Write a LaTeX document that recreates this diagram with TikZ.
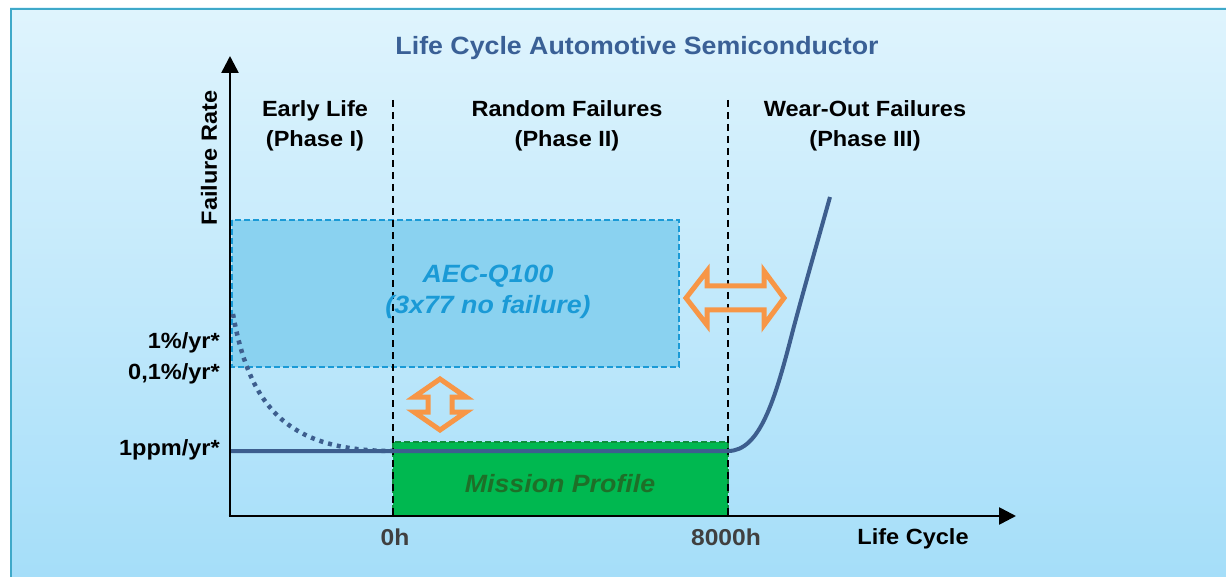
\documentclass[tikz,border=0pt]{standalone}
\usepackage{fontspec}
\setmainfont{Liberation Sans}[FakeStretch=1.07]
\usetikzlibrary{arrows.meta}
\definecolor{bgtop}{HTML}{DFF4FD}
\definecolor{bgbot}{HTML}{A5DEF9}
\definecolor{framec}{HTML}{3FA9C9}
\definecolor{titleblue}{HTML}{3A6096}
\definecolor{curvec}{HTML}{3D5E8E}
\definecolor{aecfill}{HTML}{8AD2F0}
\definecolor{aecline}{HTML}{1A9AD6}
\definecolor{mpfill}{HTML}{00B850}
\definecolor{mpline}{HTML}{0E8F3C}
\definecolor{mptext}{HTML}{1E6F28}
\definecolor{orangec}{HTML}{F79646}
\definecolor{tickc}{HTML}{404040}
\begin{document}
\begin{tikzpicture}[x=1pt,y=-1pt,
  lbl/.style={font=\bfseries\fontsize{22}{30}\selectfont, align=center, inner sep=0pt},
  ylbl/.style={font=\bfseries\fontsize{22}{26}\selectfont, anchor=east, inner sep=0pt},
  xlbl/.style={font=\bfseries\fontsize{23}{26}\selectfont, text=tickc, inner sep=0pt},
  boxtext/.style={font=\bfseries\itshape\fontsize{25}{31}\selectfont, align=center, inner sep=0pt},
  phaseline/.style={black, line width=1.6pt, dash pattern=on 7pt off 5pt},
  axisline/.style={black, line width=2.6pt, -{Triangle[length=17pt,width=17pt]}},
  ratecurve/.style={curvec, line width=4pt},
  dblarrow/.style={orangec, line width=5pt, line join=miter}
]
\useasboundingbox (0,0) rectangle (1226,577);
\fill[white] (0,0) rectangle (1226,577);
\shade[top color=bgtop, bottom color=bgbot] (10,8) rectangle (1226,577);
\draw[framec, line width=2pt] (11,577) -- (11,9) -- (1226,9);

% coordinates
\coordinate (O) at (230,516);
\coordinate (ytop) at (230,56);
\coordinate (xend) at (1016,516);
\coordinate (p1top) at (393,100);
\coordinate (p1bot) at (393,516);
\coordinate (p2top) at (728,100);
\coordinate (p2bot) at (728,516);

% boxes
\draw[aecline, fill=aecfill, line width=1.8pt, dash pattern=on 6pt off 3pt] (232,220) rectangle (679,367);
\node (aecbox) at (455.5,293.5) {};
\draw[mpline, fill=mpfill, line width=1.5pt, dash pattern=on 6pt off 3pt] (393,442) rectangle (728,516);
\node (mpbox) at (560.5,479) {};

% phase separators
\draw[phaseline] (p1top) -- (p1bot);
\draw[phaseline] (p2top) -- (p2bot);

% curves
\coordinate (early) at (233,314);
\coordinate (flatstart) at (230,451);
\coordinate (flatend) at (728,451);
\coordinate (mid) at (793,330);
\coordinate (wearend) at (830,197);
\draw[curvec, line width=4.5pt, dash pattern=on 4pt off 5pt] (early) .. controls (250,410) and (290,451) .. (393,451);
\draw[ratecurve] (flatstart) -- (flatend) .. controls (760,451) and (775,400) .. (mid) .. controls (805,285) and (818,240) .. (wearend);

% axes
\draw[axisline] (O) -- (ytop);
\draw[axisline] ([xshift=-1.3pt]O) -- (xend);

% orange double arrows
\draw[dblarrow] (686,298) -- (707,271) -- (707,286) -- (764,286) -- (764,271) -- (784,298)
  -- (764,325) -- (764,310) -- (707,310) -- (707,325) -- cycle;
\draw[dblarrow] (440,379) -- (466,397) -- (452,397) -- (452,412) -- (466,412) -- (440,430)
  -- (414,412) -- (428,412) -- (428,397) -- (414,397) -- cycle;

% texts
\node[font=\bfseries\fontsize{25}{30}\selectfont, text=titleblue, inner sep=0pt] (title) at (637,48) {Life Cycle Automotive Semiconductor};
\node[lbl] (ph1) at (315,126) {Early Life\\(Phase I)};
\node[lbl] (ph2) at (567,126) {Random Failures\\(Phase II)};
\node[lbl] (ph3) at (865,126) {Wear-Out Failures\\(Phase III)};
\node[lbl, rotate=90] (frate) at (209,158) {Failure Rate};
\node[ylbl] (r1) at (220,343) {1\%/yr*};
\node[ylbl] (r2) at (220,374) {0,1\%/yr*};
\node[ylbl] (r3) at (220,450) {1ppm/yr*};
\node[xlbl] (t0) at (395,537) {0h};
\node[xlbl] (t8) at (726,537) {8000h};
\node[lbl] (lc) at (913,539) {Life Cycle};
\node[boxtext, text=aecline] (aectext) at (488,292) {AEC-Q100\\(3x77 no failure)};
\node[boxtext, text=mptext] (mptxt) at (560,484) {Mission Profile};
\end{tikzpicture}
\end{document}
